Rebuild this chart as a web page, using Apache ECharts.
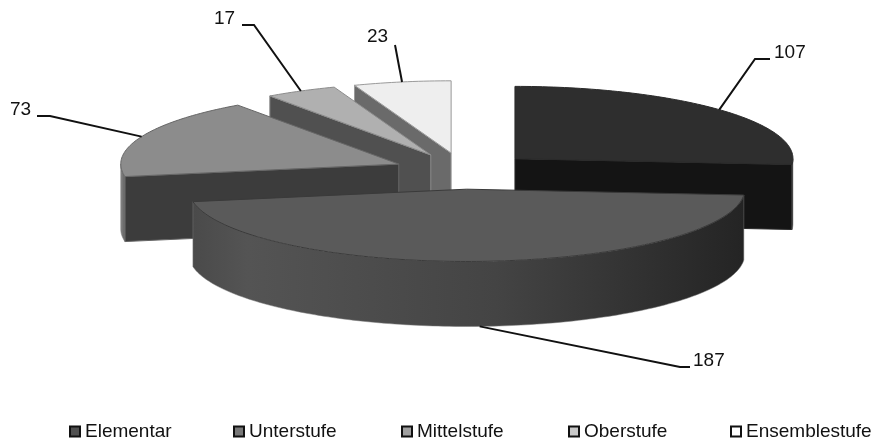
<!DOCTYPE html>
<html>
<head>
<meta charset="utf-8">
<style>
  html, body { margin: 0; padding: 0; background: #fff; }
  #main { width: 876px; height: 444px; }
</style>
<script src="https://cdn.jsdelivr.net/npm/echarts@6/dist/echarts.min.js"></script>
</head>
<body>
<div id="main"></div>
<script>
const categories = ['Elementar', 'Unterstufe', 'Mittelstufe', 'Oberstufe', 'Ensemblestufe']
const counts = [107, 187, 73, 17, 23]

// back to front, the painter's order of the exploded slices
const drawOrder = [4, 3, 2, 0, 1]

const topColors = ['#2e2e2e', '#5a5a5a', '#8c8c8c', '#b0b0b0', '#eeeeee']
const edgeColors = ['#2a2a2a', '#3a3a3a', '#666666', '#8c8c8c', '#9a9a9a']
const faceColors = ['#141414', '#333333', '#3c3c3c', '#505050', '#6a6a6a']
const legendColors = ['#505050', '#787878', '#a0a0a0', '#c8c8c8', '#ffffff']
const legendLeft = [69, 233, 401, 568, 730]

// elbow and text of each leader line
const leaderElbow = [[755, 59], [680, 367], [50, 116], [254, 25], [395, 45]]
const leaderEnd = [[770, 59], [690, 367], [37, 116], [242, 25], null]
const labelPos = [[774, 53], [693, 361], [10, 110], [214, 19], [367, 37]]

const cx = 463.5
const cy = 171
const rx = 278
const tilt = 0.26
const depth = 65
const explode = 70

const total = counts.reduce((a, b) => a + b, 0)

const angleOf = (index) => {
  let sum = 0
  for (let i = 0; i < index; i++) sum += counts[i]
  return (sum / total) * Math.PI * 2
}

const onRim = (ax, ay, angle, drop) => [
  ax + rx * Math.sin(angle),
  ay - rx * tilt * Math.cos(angle) + (drop || 0)
]

const arcPoints = (ax, ay, from, to, drop) => {
  const points = []
  const steps = Math.max(2, Math.ceil((to - from) / 0.02))
  for (let i = 0; i <= steps; i++) {
    points.push(onRim(ax, ay, from + ((to - from) * i) / steps, drop))
  }
  return points
}

const renderSlice = (params, api) => {
  const index = drawOrder[params.seriesIndex]
  const start = angleOf(index)
  const end = start + (api.value(0) / total) * Math.PI * 2
  const mid = (start + end) / 2
  const ax = cx + explode * Math.sin(mid)
  const ay = cy - explode * tilt * Math.cos(mid)
  const children = []
  const edge = { stroke: edgeColors[index], lineWidth: 1 }

  // side walls left by pulling the slice out
  const addFace = (angle) => {
    const rim = onRim(ax, ay, angle)
    children.push({
      type: 'polygon',
      shape: { points: [[ax, ay], rim, [rim[0], rim[1] + depth], [ax, ay + depth]] },
      style: { fill: faceColors[index], ...edge }
    })
  }
  if (Math.sin(start) < -0.01) addFace(start)
  if (Math.sin(end) > 0.01) addFace(end)

  // outer wall, only the part that faces the viewer
  const wallFrom = Math.max(start, Math.PI / 2)
  const wallTo = Math.min(end, (Math.PI * 3) / 2)
  if (wallTo > wallFrom) {
    const lower = arcPoints(ax, ay, wallFrom, wallTo, depth)
    const upper = arcPoints(ax, ay, wallFrom, wallTo, 0).reverse()
    children.push({
      type: 'polygon',
      shape: { points: lower.concat(upper) },
      style: {
        fill: new echarts.graphic.LinearGradient(0, 0, 1, 0, index === 1
          ? [
              { offset: 0, color: '#4a4a4a' },
              { offset: 0.1, color: '#545454' },
              { offset: 0.55, color: '#444444' },
              { offset: 1, color: '#242424' }
            ]
          : index === 2
          ? [
              { offset: 0, color: '#8a8a8a' },
              { offset: 1, color: '#5c5c5c' }
            ]
          : [
              { offset: 0, color: '#1c1c1c' },
              { offset: 1, color: '#141414' }
            ]),
        stroke: 'rgba(120,120,120,0.5)',
        lineWidth: 1
      }
    })
  }

  // top of the slice
  children.push({
    type: 'polygon',
    shape: { points: [[ax, ay]].concat(arcPoints(ax, ay, start, end, 0)) },
    style: { fill: topColors[index], ...edge }
  })

  // leader line from the middle of the rim, through the front wall for the big slice
  const midDrop = Math.cos(mid) < -0.5 ? depth : 0
  const anchor = onRim(ax, ay, mid, midDrop)
  const line = [anchor, leaderElbow[index]]
  if (leaderEnd[index]) line.push(leaderEnd[index])
  children.push({
    type: 'polyline',
    shape: { points: line },
    style: { fill: null, stroke: '#111111', lineWidth: 2 }
  })
  children.push({
    type: 'text',
    x: labelPos[index][0],
    y: labelPos[index][1],
    style: {
      text: String(api.value(0)),
      fill: '#111111',
      font: '19px "Liberation Sans"',
      textAlign: 'left',
      textVerticalAlign: 'middle',
      verticalAlign: 'middle'
    }
  })

  return { type: 'group', children }
}

const main = echarts.init(document.getElementById('main'))

main.setOption({
  animation: false,
  backgroundColor: '#ffffff',
  legend: categories.map((name, i) => ({
    left: legendLeft[i],
    top: 422,
    padding: 0,
    selectedMode: false,
    itemWidth: 10,
    itemHeight: 10,
    textStyle: { fontFamily: 'Liberation Sans', fontSize: 19, color: '#111111' },
    data: [
      {
        name,
        icon: 'rect',
        itemStyle: { color: legendColors[i], borderColor: '#111111', borderWidth: 2 }
      }
    ]
  })),
  series: drawOrder.map((index) => ({
    name: categories[index],
    type: 'custom',
    coordinateSystem: 'none',
    renderItem: renderSlice,
    data: [[counts[index]]]
  }))
})
</script>
</body>
</html>
